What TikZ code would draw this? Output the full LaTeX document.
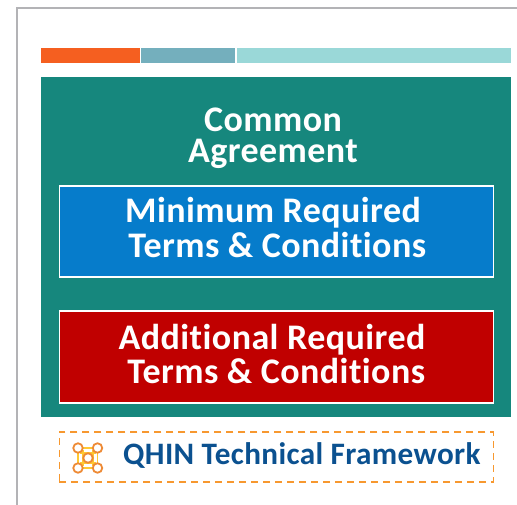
\documentclass[tikz,border=0pt]{standalone}
\usepackage{fontspec}
\setmainfont{Carlito}[LetterSpace=1.2,RawFeature={-liga;-clig;-dlig}]
\definecolor{framegray}{HTML}{B3B3B6}
\definecolor{barorange}{HTML}{F55F20}
\definecolor{barblue}{HTML}{74AFBD}
\definecolor{barcyan}{HTML}{9AD8D8}
\definecolor{teal}{HTML}{16877D}
\definecolor{bluebox}{HTML}{067CCB}
\definecolor{redbox}{HTML}{C00000}
\definecolor{dashorange}{HTML}{F7982F}
\definecolor{qhinblue}{HTML}{0B5190}
\definecolor{iconyellow}{HTML}{FFC933}
\definecolor{iconorange}{HTML}{EE8A35}
\tikzset{
  bar/.style={inner sep=0pt,outer sep=0pt,anchor=north west},
  termsbox/.style={draw=white,line width=1.5pt,inner sep=0pt,anchor=north west,minimum width=434pt},
  bigtext/.style={text=white,align=center,inner sep=0pt},
  iconring/.style={circle,draw=iconorange,line width=1.8pt,fill=white,minimum size=9.5pt,inner sep=0pt},
  iconlink/.style={draw=iconyellow,line width=1.3pt}
}
\begin{document}
\begin{tikzpicture}[x=1pt,y=-1pt]
\useasboundingbox (0,0) rectangle (517,505);
\fill[white] (0,0) rectangle (517,505);
\draw[framegray,line width=2pt] (16.5,505) -- (16.5,8) -- (517,8);
\node[bar,fill=barorange,minimum width=99pt,minimum height=15pt] (b1) at (41,48) {};
\node[bar,fill=barblue,minimum width=94pt,minimum height=15pt] (b2) at (141,48) {};
\node[bar,fill=barcyan,minimum width=274pt,minimum height=15pt] (b3) at (237,48) {};
\node[bar,fill=teal,minimum width=470pt,minimum height=340pt] (panel) at (41,77) {};
\node[bigtext,font=\bfseries\fontsize{36}{31}\selectfont] (title) at (273,138.5) {Common\\Agreement};
\node[termsbox,fill=bluebox,minimum height=91pt] (minbox) at (58.5,185.5) {};
\node[bigtext,font=\bfseries\fontsize{36}{35}\selectfont] (mintext) at (273,227.5) {Minimum Required\\\ Terms \& Conditions};
\node[termsbox,fill=redbox,minimum height=92pt] (addbox) at (58.5,310) {};
\node[bigtext,font=\bfseries\fontsize{36}{34}\selectfont] (addtext) at (272,354) {Additional Required\\\ Terms \& Conditions};
\node[draw=dashorange,line width=1.5pt,dash pattern=on 7pt off 5pt,inner sep=0pt,anchor=north west,minimum width=434pt,minimum height=50pt] (tf) at (58.5,431) {};
\node[anchor=west,inner sep=0pt,text=qhinblue,font=\bfseries\fontsize{31.2}{30}\selectfont] (tftext) at (123,456) {QHIN Technical Framework};
\coordinate (i1) at (78,448);
\coordinate (i2) at (97.5,448);
\coordinate (i3) at (78,468);
\coordinate (i4) at (97.5,468);
\coordinate (i5) at (88,458);
\draw[iconlink] (i1) -- (i2) -- (i4) -- (i3) -- cycle;
\draw[iconlink] (80,453) -- (96,453) (80,463) -- (96,463) (83,450) -- (83,466) (93,450) -- (93,466);
\node[iconring] (r1) at (i1) {};
\node[iconring] (r2) at (i2) {};
\node[iconring] (r3) at (i3) {};
\node[iconring] (r4) at (i4) {};
\node[iconring] (r5) at (i5) {};
\end{tikzpicture}
\end{document}
